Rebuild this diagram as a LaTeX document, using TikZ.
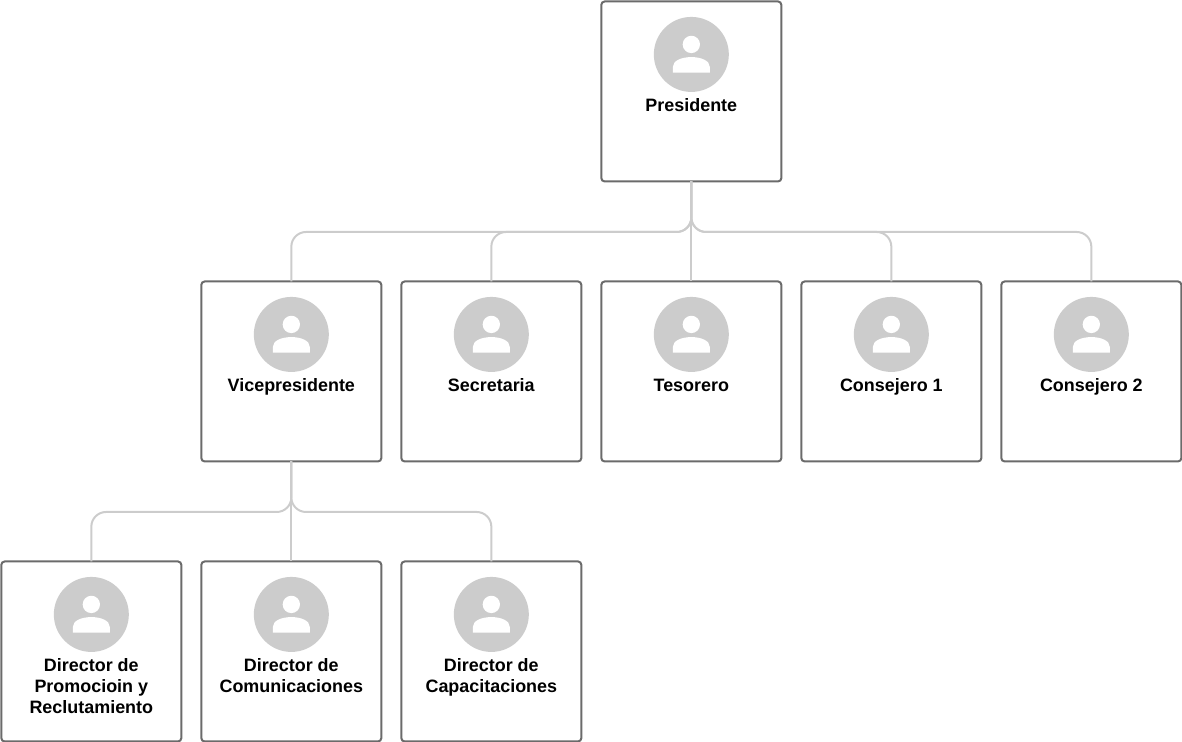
\documentclass[tikz,border=0pt]{standalone}
\usepackage{fontspec}
\setmainfont{Liberation Sans}
\usetikzlibrary{positioning}

\definecolor{boxgray}{HTML}{6B6B6B}
\definecolor{softgray}{HTML}{CCCCCC}

\tikzset{
    card/.style={draw=boxgray, line width=1.5pt, rounded corners=2.5pt, fill=white,
        minimum size=135pt, outer sep=0pt, inner sep=0pt},
    face/.style={circle, fill=softgray, minimum size=56.25pt, inner sep=0pt, outer sep=0pt},
    role/.style={align=center, font=\fontsize{13.45}{15.75}\selectfont\bfseries, inner sep=0pt},
    link/.style={draw=softgray, line width=1.5pt, rounded corners=11pt}
}

\newcommand{\avatar}[2]{
    \node [face, below=11.6pt of #1.north] (#1face) {};
    \begin{scope}[shift={(#1face.center)}]
        \fill [white] (0pt,7.5pt) circle (6.5pt);
        \fill [white] (-13.9pt,-13.7pt) -- (-13.9pt,-9.5pt)
            .. controls (-13.9pt,-4.5pt) and (-7pt,-2pt) .. (0pt,-2pt)
            .. controls (7pt,-2pt) and (13.9pt,-4.5pt) .. (13.9pt,-9.5pt)
            -- (13.9pt,-13.7pt) -- cycle;
    \end{scope}
    \node [role, below=4.3pt of #1face] (#1text) {\rule{0pt}{10pt}#2};
}

\begin{document}
\begin{tikzpicture}
    \useasboundingbox (0pt,0pt) rectangle (886.5pt,556.5pt);

    \node [card] (pres) at (518.5pt,487.9pt) {};
    \node [card, below=75pt of pres] (teso) {};
    \node [card, left=15pt of teso] (secr) {};
    \node [card, left=15pt of secr] (vice) {};
    \node [card, right=15pt of teso] (consa) {};
    \node [card, right=15pt of consa] (consb) {};
    \node [card, below=75pt of vice] (dcom) {};
    \node [card, left=15pt of dcom] (dpro) {};
    \node [card, right=15pt of dcom] (dcap) {};

    \coordinate [below=37.9pt of pres.south] (busa);
    \coordinate [below=37.9pt of vice.south] (busb);

    \draw [link] (pres.south) -- (busa) -| (vice.north);
    \draw [link] (pres.south) -- (busa) -| (secr.north);
    \draw [link] (pres.south) -- (teso.north);
    \draw [link] (pres.south) -- (busa) -| (consa.north);
    \draw [link] (pres.south) -- (busa) -| (consb.north);

    \draw [link] (vice.south) -- (busb) -| (dpro.north);
    \draw [link] (vice.south) -- (dcom.north);
    \draw [link] (vice.south) -- (busb) -| (dcap.north);

    \avatar{pres}{Presidente}
    \avatar{vice}{Vicepresidente}
    \avatar{secr}{Secretaria}
    \avatar{teso}{Tesorero}
    \avatar{consa}{Consejero 1}
    \avatar{consb}{Consejero 2}
    \avatar{dpro}{Director de\\Promocioin y\\Reclutamiento}
    \avatar{dcom}{Director de\\Comunicaciones}
    \avatar{dcap}{Director de\\Capacitaciones}
\end{tikzpicture}
\end{document}
